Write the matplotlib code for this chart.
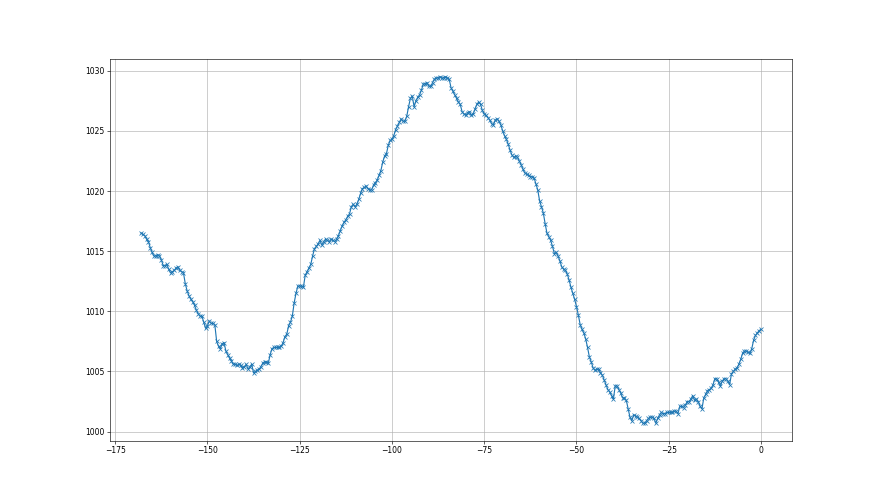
import numpy as np
import matplotlib
matplotlib.use("Agg")
import matplotlib.pyplot as plt

# pressure readings every half hour, oldest first, last one at hour 0
pressure = [
    1016.5, 1016.4, 1016.3, 1016.0, 1015.8, 1015.3, 1014.9, 1014.6, 1014.6, 1014.7, 1014.6, 1014.3,
    1013.8, 1013.8, 1013.9, 1013.5, 1013.2, 1013.3, 1013.4, 1013.6, 1013.7, 1013.4, 1013.3, 1013.2,
    1012.3, 1011.7, 1011.3, 1011.0, 1010.8, 1010.5, 1010.1, 1009.8, 1009.6, 1009.6, 1009.1, 1008.6,
    1008.8, 1009.2, 1009.0, 1009.0, 1008.9, 1007.5, 1007.1, 1006.9, 1007.3, 1007.4, 1006.7, 1006.4,
    1006.1, 1005.9, 1005.6, 1005.6, 1005.5, 1005.6, 1005.5, 1005.3, 1005.4, 1005.6, 1005.2, 1005.4,
    1005.6, 1004.9, 1005.0, 1005.1, 1005.2, 1005.4, 1005.7, 1005.8, 1005.8, 1005.7, 1006.4, 1006.9,
    1007.0, 1007.0, 1007.0, 1007.0, 1007.1, 1007.4, 1007.9, 1008.1, 1008.8, 1009.1, 1009.6, 1010.7,
    1011.5, 1012.1, 1012.1, 1012.1, 1012.0, 1013.0, 1013.3, 1013.6, 1013.9, 1014.6, 1015.2, 1015.4,
    1015.6, 1015.9, 1015.5, 1015.8, 1016.0, 1015.9, 1015.8, 1016.0, 1015.9, 1015.8, 1016.0, 1016.3,
    1016.7, 1017.1, 1017.4, 1017.6, 1017.9, 1018.1, 1018.7, 1018.9, 1018.7, 1018.9, 1019.3, 1019.8,
    1020.2, 1020.3, 1020.4, 1020.2, 1020.1, 1020.1, 1020.5, 1020.7, 1020.9, 1021.3, 1021.7, 1022.4,
    1022.9, 1023.1, 1023.8, 1024.2, 1024.3, 1024.6, 1025.1, 1025.4, 1025.7, 1026.0, 1025.8, 1025.8,
    1026.2, 1027.0, 1027.7, 1027.9, 1027.0, 1027.5, 1027.8, 1028.0, 1028.4, 1028.9, 1028.9, 1029.0,
    1028.7, 1028.7, 1029.0, 1029.3, 1029.4, 1029.4, 1029.5, 1029.4, 1029.4, 1029.5, 1029.4, 1029.3,
    1028.6, 1028.3, 1028.0, 1027.7, 1027.4, 1027.2, 1026.6, 1026.4, 1026.3, 1026.5, 1026.6, 1026.3,
    1026.4, 1026.8, 1027.2, 1027.4, 1027.2, 1026.7, 1026.4, 1026.3, 1026.1, 1025.9, 1025.6, 1025.5,
    1025.9, 1026.0, 1025.8, 1025.5, 1025.0, 1024.6, 1024.3, 1023.9, 1023.4, 1023.0, 1022.8, 1022.9,
    1022.8, 1022.5, 1022.2, 1021.8, 1021.5, 1021.4, 1021.3, 1021.2, 1021.2, 1021.1, 1020.6, 1020.1,
    1019.2, 1018.7, 1018.2, 1017.3, 1016.5, 1016.2, 1015.9, 1015.4, 1014.8, 1014.9, 1014.6, 1014.2,
    1013.7, 1013.5, 1013.4, 1013.1, 1012.6, 1012.0, 1011.5, 1011.0, 1010.4, 1009.7, 1008.9, 1008.5,
    1008.2, 1007.7, 1007.0, 1006.2, 1005.8, 1005.3, 1005.1, 1005.2, 1005.2, 1004.9, 1004.7, 1004.3,
    1003.9, 1003.5, 1003.3, 1003.0, 1002.7, 1003.8, 1003.8, 1003.5, 1003.2, 1002.8, 1002.8, 1002.6,
    1001.9, 1001.2, 1000.9, 1001.4, 1001.3, 1001.2, 1001.1, 1000.9, 1000.7, 1000.7, 1000.9, 1001.1,
    1001.2, 1001.2, 1001.1, 1000.7, 1001.1, 1001.4, 1001.6, 1001.5, 1001.5, 1001.6, 1001.6, 1001.6,
    1001.6, 1001.7, 1001.7, 1001.5, 1002.1, 1002.1, 1002.0, 1002.2, 1002.5, 1002.5, 1002.7, 1003.0,
    1002.6, 1002.7, 1002.5, 1002.1, 1001.9, 1002.8, 1003.1, 1003.4, 1003.5, 1003.6, 1003.9, 1004.4,
    1004.4, 1004.1, 1003.8, 1004.2, 1004.4, 1004.4, 1004.2, 1003.9, 1004.8, 1005.0, 1005.2, 1005.3,
    1005.6, 1006.0, 1006.5, 1006.7, 1006.7, 1006.6, 1006.5, 1006.9, 1007.6, 1008.0, 1008.2, 1008.4,
    1008.5,
]
step_hours = 0.5

# hours relative to the last reading
hours = -step_hours * np.arange(len(pressure))[::-1]

fig, ax = plt.subplots(figsize=(16, 9), dpi=55)
ax.plot(hours, pressure, "x-")
ax.grid(True)

fig.savefig("out.png", dpi=55)
